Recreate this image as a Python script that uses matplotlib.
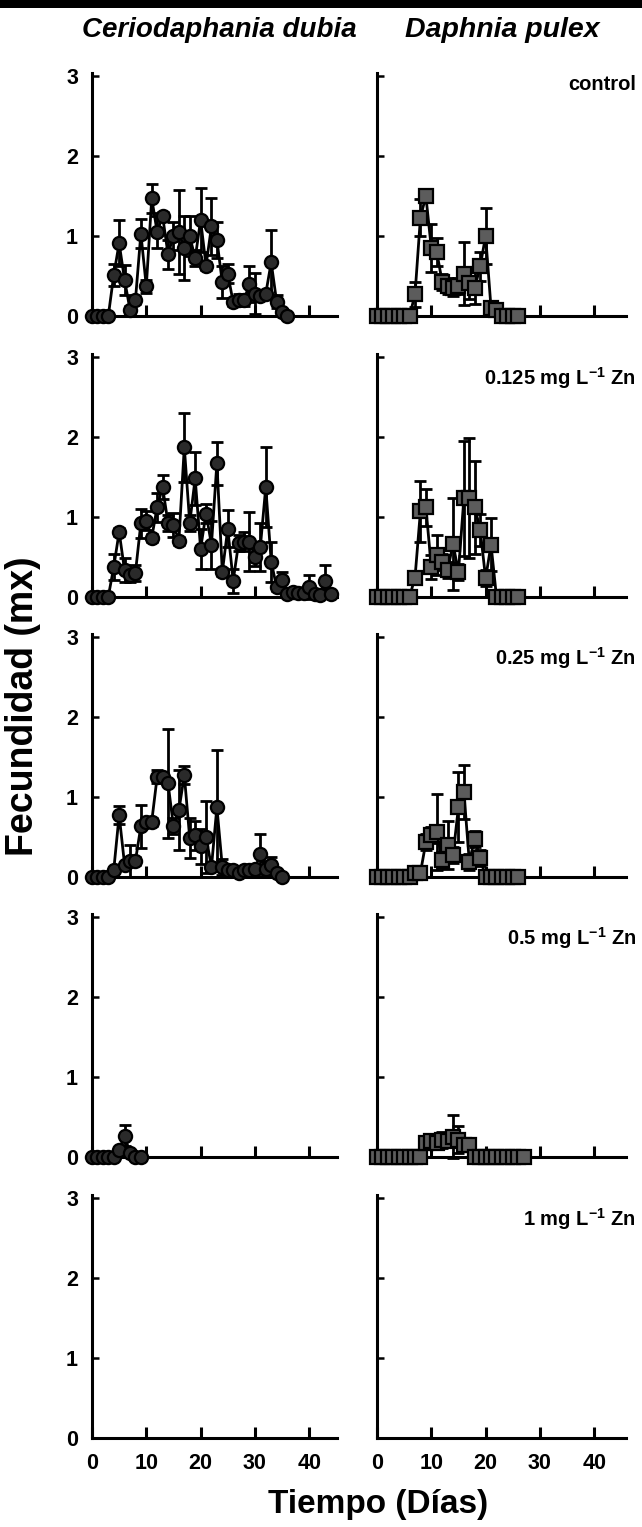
import numpy as np
import matplotlib
matplotlib.use('Agg')
import matplotlib.pyplot as plt
from matplotlib.patches import Rectangle

plt.rcParams['font.family'] = ['Liberation Sans', 'DejaVu Sans']
plt.rcParams['font.weight'] = 'bold'
plt.rcParams['mathtext.fontset'] = 'custom'
plt.rcParams['mathtext.rm'] = 'Liberation Sans:bold'
plt.rcParams['mathtext.bf'] = 'Liberation Sans:bold'
plt.rcParams['mathtext.default'] = 'bf'

# fecundity (mx) per day, mean and error
cd_ctrl = [0, 0, 0, 0, 0.51, 0.91, 0.45, 0.08, 0.2, 1.03, 0.37, 1.47, 1.05, 1.25, 0.77, 1.0, 1.05, 0.85,
           1.0, 0.72, 1.2, 0.63, 1.12, 0.95, 0.42, 0.53, 0.17, 0.2, 0.2, 0.4, 0.28, 0.25, 0.28, 0.67,
           0.18, 0.05, 0.0]
cd_ctrl_err = [0, 0, 0, 0, 0.14, 0.29, 0.19, 0.05, 0.05, 0.18, 0.08, 0.18, 0.2, 0.05, 0.18, 0.17, 0.53,
               0.4, 0.25, 0.1, 0.4, 0.05, 0.36, 0.22, 0.2, 0.12, 0.05, 0.08, 0.08, 0.22, 0.26, 0.05,
               0.05, 0.41, 0.08, 0.02, 0]

cd_0125 = [0, 0, 0, 0, 0.37, 0.81, 0.33, 0.27, 0.3, 0.92, 0.95, 0.74, 1.12, 1.37, 0.92, 0.9, 0.7, 1.87,
           0.92, 1.48, 0.6, 1.04, 0.65, 1.67, 0.31, 0.85, 0.2, 0.67, 0.69, 0.69, 0.5, 0.62, 1.37, 0.44,
           0.12, 0.21, 0.04, 0.06, 0.05, 0.05, 0.12, 0.04, 0.02, 0.2, 0.03]
cd_0125_err = [0, 0, 0, 0, 0.16, 0.05, 0.15, 0.08, 0.1, 0.18, 0.12, 0.05, 0.18, 0.15, 0.1, 0.15, 0.05,
               0.43, 0.1, 0.33, 0.25, 0.12, 0.3, 0.27, 0.05, 0.23, 0.15, 0.1, 0.12, 0.37, 0.12, 0.3,
               0.5, 0.25, 0.05, 0.1, 0, 0, 0, 0.05, 0.15, 0, 0, 0.2, 0]

cd_025 = [0, 0, 0, 0, 0.08, 0.77, 0.15, 0.2, 0.2, 0.63, 0.69, 0.69, 1.25, 1.25, 1.17, 0.63, 0.83, 1.27,
          0.48, 0.52, 0.38, 0.5, 0.12, 0.87, 0.12, 0.08, 0.08, 0.05, 0.08, 0.08, 0.1, 0.28, 0.1, 0.15,
          0.05, 0]
cd_025_err = [0, 0, 0, 0, 0, 0.11, 0, 0.2, 0.05, 0.27, 0.05, 0.05, 0.08, 0.05, 0.68, 0.1, 0.5, 0.11,
              0.25, 0.18, 0.22, 0.45, 0.05, 0.71, 0.1, 0, 0, 0, 0, 0, 0, 0.25, 0.1, 0.1, 0, 0]

cd_05 = [0, 0, 0, 0, 0, 0.09, 0.27, 0.05, 0, 0]
cd_05_err = [0, 0, 0, 0, 0, 0, 0.13, 0, 0, 0]

dp_ctrl = [0, 0, 0, 0, 0, 0, 0, 0.27, 1.23, 1.5, 0.85, 0.8, 0.43, 0.37, 0.35, 0.37, 0.53, 0.41, 0.35,
           0.62, 1.0, 0.1, 0.08, 0, 0, 0, 0]
dp_ctrl_err = [0, 0, 0, 0, 0, 0, 0, 0.16, 0.23, 0.05, 0.3, 0.17, 0.1, 0.1, 0.1, 0.1, 0.39, 0.2, 0.2,
               0.18, 0.35, 0.05, 0.05, 0, 0, 0, 0]

dp_0125 = [0, 0, 0, 0, 0, 0, 0, 0.24, 1.07, 1.12, 0.37, 0.52, 0.44, 0.33, 0.66, 0.31, 1.23, 1.23, 1.12,
           0.84, 0.23, 0.65, 0, 0, 0, 0, 0]
dp_0125_err = [0, 0, 0, 0, 0, 0, 0, 0.05, 0.38, 0.23, 0.15, 0.25, 0.1, 0.1, 0.58, 0.1, 0.72, 0.75, 0.58,
               0.2, 0.1, 0.33, 0, 0, 0, 0, 0]

dp_025 = [0, 0, 0, 0, 0, 0, 0, 0.05, 0.05, 0.43, 0.52, 0.56, 0.21, 0.4, 0.27, 0.87, 1.06, 0.19, 0.47,
          0.23, 0, 0, 0, 0, 0, 0, 0]
dp_025_err = [0, 0, 0, 0, 0, 0, 0, 0, 0, 0.1, 0.1, 0.48, 0.1, 0.3, 0.1, 0.44, 0.34, 0.1, 0.1, 0.1,
              0, 0, 0, 0, 0, 0, 0]

dp_05 = [0, 0, 0, 0, 0, 0, 0, 0, 0, 0.18, 0.2, 0.18, 0.22, 0.2, 0.26, 0.22, 0.15, 0.15, 0, 0, 0, 0, 0,
         0, 0, 0, 0, 0]
dp_05_err = [0, 0, 0, 0, 0, 0, 0, 0, 0, 0.05, 0.05, 0.05, 0.1, 0.05, 0.27, 0.17, 0.05, 0.05, 0, 0, 0,
             0, 0, 0, 0, 0, 0, 0]

species = ['Ceriodaphania dubia', 'Daphnia pulex']
treatments = ['control', '0.125 mg L$^{-1}$ Zn', '0.25 mg L$^{-1}$ Zn', '0.5 mg L$^{-1}$ Zn',
              '1 mg L$^{-1}$ Zn']
dubia = [(cd_ctrl, cd_ctrl_err), (cd_0125, cd_0125_err), (cd_025, cd_025_err), (cd_05, cd_05_err), None]
pulex = [(dp_ctrl, dp_ctrl_err), (dp_0125, dp_0125_err), (dp_025, dp_025_err), (dp_05, dp_05_err), None]

W, H = 642, 1527
fig = plt.figure(figsize=(W / 100, H / 100), dpi=100)

# dark strip along the top edge
fig.patches.append(Rectangle((0, 1 - 8 / H), 1, 8 / H, transform=fig.transFigure,
                             facecolor='black', edgecolor='none'))

zero_y = [316, 596.7, 876.7, 1157.3, 1438]
px_day = 5.43
px_unit = 80
ytop = 3.04


def draw(ax, series, marker, face, xmax):
    ax.set_xlim(0, xmax)
    ax.set_ylim(0, ytop)
    for s in ['top', 'right']:
        ax.spines[s].set_visible(False)
    for s in ['left', 'bottom']:
        ax.spines[s].set_linewidth(2.2)
    ax.set_xticks([0, 10, 20, 30, 40])
    ax.set_yticks([0, 1, 2, 3])
    ax.tick_params(axis='x', direction='in', length=8, width=2.2, labelsize=15.5, pad=11)
    ax.tick_params(axis='y', direction='in', length=5, width=1.8, labelsize=15.5, pad=10)
    if series is None:
        return
    vals, errs = series
    days = np.arange(len(vals))
    ax.errorbar(days, vals, yerr=errs, fmt='none', ecolor='black', elinewidth=2,
                capsize=4, capthick=2, clip_on=False, zorder=2)
    ax.plot(days, vals, color='black', lw=2, marker=marker, ms=9.5, mfc=face, mec='black',
            mew=1.6, clip_on=False, zorder=3)


for i in range(5):
    bottom = 1 - zero_y[i] / H
    height = ytop * px_unit / H
    axl = fig.add_axes([92 / W, bottom, 45.2 * px_day / W, height])
    axr = fig.add_axes([377 / W, bottom, 45.8 * px_day / W, height])
    draw(axl, dubia[i], 'o', '#2a2a2a', 45.2)
    draw(axr, pulex[i], 's', '#5c5c5c', 45.8)
    axr.set_yticklabels([])
    if i < 4:
        axl.set_xticklabels([])
        axr.set_xticklabels([])
    lab_y = zero_y[i] - (232 if i == 0 else 219)
    fig.text(636 / W, 1 - lab_y / H, treatments[i], ha='right', va='center', fontsize=14.5,
             fontweight='bold')

fig.text(219 / W, 1 - 30 / H, species[0], ha='center', va='center', fontsize=20,
         fontweight='bold', style='italic')
fig.text(502 / W, 1 - 30 / H, species[1], ha='center', va='center', fontsize=20.5,
         fontweight='bold', style='italic')
fig.text(23 / W, 1 - 706 / H, 'Fecundidad (mx)', rotation=90, ha='center', va='center',
         fontsize=27, fontweight='bold')
fig.text(378 / W, 1 - 1505 / H, 'Tiempo (Días)', ha='center', va='center', fontsize=24,
         fontweight='bold')

fig.savefig('out.png', dpi=100)
